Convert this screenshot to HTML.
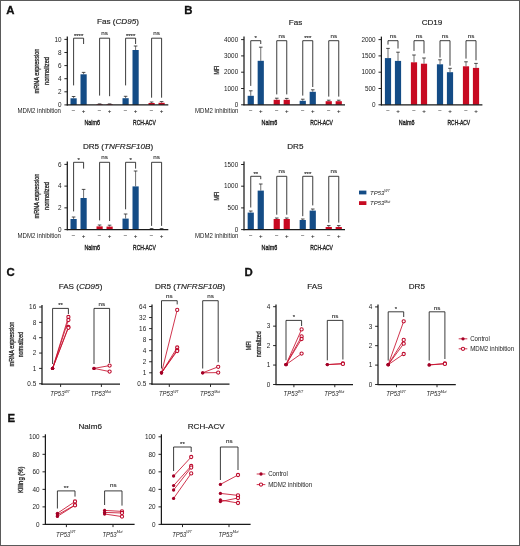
<!DOCTYPE html>
<html><head><meta charset="utf-8"><title>Figure</title>
<style>html,body{margin:0;padding:0;background:#fff;}svg{display:block;will-change:transform;}body{font-family:"Liberation Sans",sans-serif;}</style></head>
<body>
<svg width="520" height="546" viewBox="0 0 520 546" font-family="Liberation Sans, sans-serif">
<rect x="0" y="0" width="520" height="546" fill="#fff"/>
<text x="6.2" y="14.4" font-size="11.4" font-weight="bold" fill="#111" stroke="#111" stroke-width="0.3">A</text>
<text x="184.2" y="14.4" font-size="11.4" font-weight="bold" fill="#111" stroke="#111" stroke-width="0.3">B</text>
<text x="6.5" y="276.3" font-size="11.4" font-weight="bold" fill="#111" stroke="#111" stroke-width="0.3">C</text>
<text x="244.5" y="276.3" font-size="11.4" font-weight="bold" fill="#111" stroke="#111" stroke-width="0.3">D</text>
<text x="7.4" y="421.6" font-size="11.4" font-weight="bold" fill="#111" stroke="#111" stroke-width="0.3">E</text>
<text transform="translate(118,24.3)" font-size="8.1" text-anchor="middle" fill="#222" stroke="#222" stroke-width="0.16">Fas (<tspan font-style="italic">CD95</tspan>)</text>
<line x1="73.60" y1="98.30" x2="73.60" y2="96.50" stroke="#222" stroke-width="0.65" />
<line x1="71.80" y1="96.50" x2="75.40" y2="96.50" stroke="#222" stroke-width="0.8" />
<rect x="70.50" y="98.30" width="6.2" height="6.60" fill="#144c86"/>
<line x1="83.60" y1="74.30" x2="83.60" y2="72.40" stroke="#222" stroke-width="0.65" />
<line x1="81.80" y1="72.40" x2="85.40" y2="72.40" stroke="#222" stroke-width="0.8" />
<rect x="80.50" y="74.30" width="6.2" height="30.60" fill="#144c86"/>
<line x1="99.60" y1="104.30" x2="99.60" y2="103.90" stroke="#222" stroke-width="0.65" />
<line x1="97.80" y1="103.90" x2="101.40" y2="103.90" stroke="#222" stroke-width="0.8" />
<rect x="96.50" y="104.30" width="6.2" height="0.60" fill="#c70a22"/>
<line x1="109.60" y1="104.30" x2="109.60" y2="103.90" stroke="#222" stroke-width="0.65" />
<line x1="107.80" y1="103.90" x2="111.40" y2="103.90" stroke="#222" stroke-width="0.8" />
<rect x="106.50" y="104.30" width="6.2" height="0.60" fill="#c70a22"/>
<line x1="125.60" y1="98.20" x2="125.60" y2="96.30" stroke="#222" stroke-width="0.65" />
<line x1="123.80" y1="96.30" x2="127.40" y2="96.30" stroke="#222" stroke-width="0.8" />
<rect x="122.50" y="98.20" width="6.2" height="6.70" fill="#144c86"/>
<line x1="135.60" y1="50.00" x2="135.60" y2="46.00" stroke="#222" stroke-width="0.65" />
<line x1="133.80" y1="46.00" x2="137.40" y2="46.00" stroke="#222" stroke-width="0.8" />
<rect x="132.50" y="50.00" width="6.2" height="54.90" fill="#144c86"/>
<line x1="151.60" y1="103.00" x2="151.60" y2="102.00" stroke="#222" stroke-width="0.65" />
<line x1="149.80" y1="102.00" x2="153.40" y2="102.00" stroke="#222" stroke-width="0.8" />
<rect x="148.50" y="103.00" width="6.2" height="1.90" fill="#c70a22"/>
<line x1="161.60" y1="102.80" x2="161.60" y2="101.60" stroke="#222" stroke-width="0.65" />
<line x1="159.80" y1="101.60" x2="163.40" y2="101.60" stroke="#222" stroke-width="0.8" />
<rect x="158.50" y="102.80" width="6.2" height="2.10" fill="#c70a22"/>
<line x1="67.30" y1="36.40" x2="67.30" y2="105.45" stroke="#1a1a1a" stroke-width="1.25" />
<line x1="66.75" y1="104.90" x2="168.30" y2="104.90" stroke="#1a1a1a" stroke-width="1.25" />
<line x1="64.40" y1="104.90" x2="67.30" y2="104.90" stroke="#1a1a1a" stroke-width="0.95" />
<text transform="translate(61.50,107.15) scale(0.98,1)" font-size="6.5" text-anchor="end" fill="#222" font-weight="normal" font-style="normal"  >0</text>
<line x1="64.40" y1="91.80" x2="67.30" y2="91.80" stroke="#1a1a1a" stroke-width="0.95" />
<text transform="translate(61.50,94.05) scale(0.98,1)" font-size="6.5" text-anchor="end" fill="#222" font-weight="normal" font-style="normal"  >2</text>
<line x1="64.40" y1="78.70" x2="67.30" y2="78.70" stroke="#1a1a1a" stroke-width="0.95" />
<text transform="translate(61.50,80.95) scale(0.98,1)" font-size="6.5" text-anchor="end" fill="#222" font-weight="normal" font-style="normal"  >4</text>
<line x1="64.40" y1="65.60" x2="67.30" y2="65.60" stroke="#1a1a1a" stroke-width="0.95" />
<text transform="translate(61.50,67.85) scale(0.98,1)" font-size="6.5" text-anchor="end" fill="#222" font-weight="normal" font-style="normal"  >6</text>
<line x1="64.40" y1="52.50" x2="67.30" y2="52.50" stroke="#1a1a1a" stroke-width="0.95" />
<text transform="translate(61.50,54.75) scale(0.98,1)" font-size="6.5" text-anchor="end" fill="#222" font-weight="normal" font-style="normal"  >8</text>
<line x1="64.40" y1="39.40" x2="67.30" y2="39.40" stroke="#1a1a1a" stroke-width="0.95" />
<text transform="translate(61.50,41.65) scale(0.98,1)" font-size="6.5" text-anchor="end" fill="#222" font-weight="normal" font-style="normal"  >10</text>
<path d="M73.60,85.40 V38.20 H83.60 V44.00" fill="none" stroke="#1a1a1a" stroke-width="0.85"/>
<text transform="translate(78.60,37.60)" font-size="6.0" text-anchor="middle" fill="#222" font-weight="normal" font-style="normal" stroke="#222" stroke-width="0.1">****</text>
<path d="M99.60,95.60 V38.20 H109.60 V96.20" fill="none" stroke="#1a1a1a" stroke-width="0.85"/>
<text transform="translate(104.60,35.25)" font-size="6.2" text-anchor="middle" fill="#222" font-weight="normal" font-style="normal" stroke="#222" stroke-width="0.1">ns</text>
<path d="M125.60,85.40 V38.20 H135.60 V44.00" fill="none" stroke="#1a1a1a" stroke-width="0.85"/>
<text transform="translate(130.60,37.60)" font-size="6.0" text-anchor="middle" fill="#222" font-weight="normal" font-style="normal" stroke="#222" stroke-width="0.1">****</text>
<path d="M151.60,97.70 V38.20 H161.60 V97.70" fill="none" stroke="#1a1a1a" stroke-width="0.85"/>
<text transform="translate(156.60,35.25)" font-size="6.2" text-anchor="middle" fill="#222" font-weight="normal" font-style="normal" stroke="#222" stroke-width="0.1">ns</text>
<text transform="translate(73.60,113.00)" font-size="6.1" text-anchor="middle" fill="#222" font-weight="normal" font-style="normal" stroke="#222" stroke-width="0.1">−</text>
<text transform="translate(83.60,113.00)" font-size="6.1" text-anchor="middle" fill="#222" font-weight="normal" font-style="normal" stroke="#222" stroke-width="0.1">+</text>
<text transform="translate(99.60,113.00)" font-size="6.1" text-anchor="middle" fill="#222" font-weight="normal" font-style="normal" stroke="#222" stroke-width="0.1">−</text>
<text transform="translate(109.60,113.00)" font-size="6.1" text-anchor="middle" fill="#222" font-weight="normal" font-style="normal" stroke="#222" stroke-width="0.1">+</text>
<text transform="translate(125.60,113.00)" font-size="6.1" text-anchor="middle" fill="#222" font-weight="normal" font-style="normal" stroke="#222" stroke-width="0.1">−</text>
<text transform="translate(135.60,113.00)" font-size="6.1" text-anchor="middle" fill="#222" font-weight="normal" font-style="normal" stroke="#222" stroke-width="0.1">+</text>
<text transform="translate(151.60,113.00)" font-size="6.1" text-anchor="middle" fill="#222" font-weight="normal" font-style="normal" stroke="#222" stroke-width="0.1">−</text>
<text transform="translate(161.60,113.00)" font-size="6.1" text-anchor="middle" fill="#222" font-weight="normal" font-style="normal" stroke="#222" stroke-width="0.1">+</text>
<text transform="translate(61.00,112.90) scale(0.935,1)" font-size="6.5" text-anchor="end" fill="#222" font-weight="normal" font-style="normal"  >MDM2 inhibition</text>
<text transform="translate(92.20,124.80) scale(0.675,1)" font-size="8.0" text-anchor="middle" fill="#222" font-weight="normal" font-style="normal" stroke="#222" stroke-width="0.4">Nalm6</text>
<text transform="translate(144.40,124.80) scale(0.625,1)" font-size="8.0" text-anchor="middle" fill="#222" font-weight="normal" font-style="normal" stroke="#222" stroke-width="0.4">RCH-ACV</text>
<text transform="translate(38.80,71.00) rotate(-90) scale(0.78,1)" font-size="7.2" text-anchor="middle" fill="#222" font-weight="normal" font-style="normal" stroke="#222" stroke-width="0.28">mRNA expression</text>
<text transform="translate(48.90,71.00) rotate(-90) scale(0.8,1)" font-size="7.2" text-anchor="middle" fill="#222" font-weight="normal" font-style="normal" stroke="#222" stroke-width="0.28">normalized</text>
<text transform="translate(118,148.8)" font-size="8.1" text-anchor="middle" fill="#222" stroke="#222" stroke-width="0.16">DR5 (<tspan font-style="italic">TNFRSF10B</tspan>)</text>
<line x1="73.60" y1="219.00" x2="73.60" y2="217.00" stroke="#222" stroke-width="0.65" />
<line x1="71.80" y1="217.00" x2="75.40" y2="217.00" stroke="#222" stroke-width="0.8" />
<rect x="70.50" y="219.00" width="6.2" height="10.60" fill="#144c86"/>
<line x1="83.60" y1="198.00" x2="83.60" y2="189.40" stroke="#222" stroke-width="0.65" />
<line x1="81.80" y1="189.40" x2="85.40" y2="189.40" stroke="#222" stroke-width="0.8" />
<rect x="80.50" y="198.00" width="6.2" height="31.60" fill="#144c86"/>
<line x1="99.60" y1="226.40" x2="99.60" y2="225.00" stroke="#222" stroke-width="0.65" />
<line x1="97.80" y1="225.00" x2="101.40" y2="225.00" stroke="#222" stroke-width="0.8" />
<rect x="96.50" y="226.40" width="6.2" height="3.20" fill="#c70a22"/>
<line x1="109.60" y1="226.60" x2="109.60" y2="225.20" stroke="#222" stroke-width="0.65" />
<line x1="107.80" y1="225.20" x2="111.40" y2="225.20" stroke="#222" stroke-width="0.8" />
<rect x="106.50" y="226.60" width="6.2" height="3.00" fill="#c70a22"/>
<line x1="125.60" y1="218.60" x2="125.60" y2="214.00" stroke="#222" stroke-width="0.65" />
<line x1="123.80" y1="214.00" x2="127.40" y2="214.00" stroke="#222" stroke-width="0.8" />
<rect x="122.50" y="218.60" width="6.2" height="11.00" fill="#144c86"/>
<line x1="135.60" y1="186.40" x2="135.60" y2="171.00" stroke="#222" stroke-width="0.65" />
<line x1="133.80" y1="171.00" x2="137.40" y2="171.00" stroke="#222" stroke-width="0.8" />
<rect x="132.50" y="186.40" width="6.2" height="43.20" fill="#144c86"/>
<line x1="151.60" y1="229.00" x2="151.60" y2="228.60" stroke="#222" stroke-width="0.65" />
<line x1="149.80" y1="228.60" x2="153.40" y2="228.60" stroke="#222" stroke-width="0.8" />
<rect x="148.50" y="229.00" width="6.2" height="0.60" fill="#c70a22"/>
<line x1="161.60" y1="229.00" x2="161.60" y2="228.60" stroke="#222" stroke-width="0.65" />
<line x1="159.80" y1="228.60" x2="163.40" y2="228.60" stroke="#222" stroke-width="0.8" />
<rect x="158.50" y="229.00" width="6.2" height="0.60" fill="#c70a22"/>
<line x1="67.30" y1="161.38" x2="67.30" y2="230.15" stroke="#1a1a1a" stroke-width="1.25" />
<line x1="66.75" y1="229.60" x2="168.30" y2="229.60" stroke="#1a1a1a" stroke-width="1.25" />
<line x1="64.40" y1="229.60" x2="67.30" y2="229.60" stroke="#1a1a1a" stroke-width="0.95" />
<text transform="translate(61.50,231.85) scale(0.98,1)" font-size="6.5" text-anchor="end" fill="#222" font-weight="normal" font-style="normal"  >0</text>
<line x1="64.40" y1="207.86" x2="67.30" y2="207.86" stroke="#1a1a1a" stroke-width="0.95" />
<text transform="translate(61.50,210.11) scale(0.98,1)" font-size="6.5" text-anchor="end" fill="#222" font-weight="normal" font-style="normal"  >2</text>
<line x1="64.40" y1="186.12" x2="67.30" y2="186.12" stroke="#1a1a1a" stroke-width="0.95" />
<text transform="translate(61.50,188.37) scale(0.98,1)" font-size="6.5" text-anchor="end" fill="#222" font-weight="normal" font-style="normal"  >4</text>
<line x1="64.40" y1="164.38" x2="67.30" y2="164.38" stroke="#1a1a1a" stroke-width="0.95" />
<text transform="translate(61.50,166.63) scale(0.98,1)" font-size="6.5" text-anchor="end" fill="#222" font-weight="normal" font-style="normal"  >6</text>
<path d="M73.60,211.40 V162.30 H83.60 V168.60" fill="none" stroke="#1a1a1a" stroke-width="0.85"/>
<text transform="translate(78.60,161.70)" font-size="6.0" text-anchor="middle" fill="#222" font-weight="normal" font-style="normal" stroke="#222" stroke-width="0.1">*</text>
<path d="M99.60,220.40 V162.30 H109.60 V221.00" fill="none" stroke="#1a1a1a" stroke-width="0.85"/>
<text transform="translate(104.60,159.35)" font-size="6.2" text-anchor="middle" fill="#222" font-weight="normal" font-style="normal" stroke="#222" stroke-width="0.1">ns</text>
<path d="M125.60,209.30 V162.30 H135.60 V168.60" fill="none" stroke="#1a1a1a" stroke-width="0.85"/>
<text transform="translate(130.60,161.70)" font-size="6.0" text-anchor="middle" fill="#222" font-weight="normal" font-style="normal" stroke="#222" stroke-width="0.1">*</text>
<path d="M151.60,225.90 V162.30 H161.60 V225.90" fill="none" stroke="#1a1a1a" stroke-width="0.85"/>
<text transform="translate(156.60,159.35)" font-size="6.2" text-anchor="middle" fill="#222" font-weight="normal" font-style="normal" stroke="#222" stroke-width="0.1">ns</text>
<text transform="translate(73.60,238.30)" font-size="6.1" text-anchor="middle" fill="#222" font-weight="normal" font-style="normal" stroke="#222" stroke-width="0.1">−</text>
<text transform="translate(83.60,238.30)" font-size="6.1" text-anchor="middle" fill="#222" font-weight="normal" font-style="normal" stroke="#222" stroke-width="0.1">+</text>
<text transform="translate(99.60,238.30)" font-size="6.1" text-anchor="middle" fill="#222" font-weight="normal" font-style="normal" stroke="#222" stroke-width="0.1">−</text>
<text transform="translate(109.60,238.30)" font-size="6.1" text-anchor="middle" fill="#222" font-weight="normal" font-style="normal" stroke="#222" stroke-width="0.1">+</text>
<text transform="translate(125.60,238.30)" font-size="6.1" text-anchor="middle" fill="#222" font-weight="normal" font-style="normal" stroke="#222" stroke-width="0.1">−</text>
<text transform="translate(135.60,238.30)" font-size="6.1" text-anchor="middle" fill="#222" font-weight="normal" font-style="normal" stroke="#222" stroke-width="0.1">+</text>
<text transform="translate(151.60,238.30)" font-size="6.1" text-anchor="middle" fill="#222" font-weight="normal" font-style="normal" stroke="#222" stroke-width="0.1">−</text>
<text transform="translate(161.60,238.30)" font-size="6.1" text-anchor="middle" fill="#222" font-weight="normal" font-style="normal" stroke="#222" stroke-width="0.1">+</text>
<text transform="translate(61.00,238.20) scale(0.935,1)" font-size="6.5" text-anchor="end" fill="#222" font-weight="normal" font-style="normal"  >MDM2 inhibition</text>
<text transform="translate(92.20,249.60) scale(0.675,1)" font-size="8.0" text-anchor="middle" fill="#222" font-weight="normal" font-style="normal" stroke="#222" stroke-width="0.4">Nalm6</text>
<text transform="translate(144.40,249.60) scale(0.625,1)" font-size="8.0" text-anchor="middle" fill="#222" font-weight="normal" font-style="normal" stroke="#222" stroke-width="0.4">RCH-ACV</text>
<text transform="translate(38.80,196.00) rotate(-90) scale(0.78,1)" font-size="7.2" text-anchor="middle" fill="#222" font-weight="normal" font-style="normal" stroke="#222" stroke-width="0.28">mRNA expression</text>
<text transform="translate(48.90,196.00) rotate(-90) scale(0.8,1)" font-size="7.2" text-anchor="middle" fill="#222" font-weight="normal" font-style="normal" stroke="#222" stroke-width="0.28">normalized</text>
<text transform="translate(295.5,24.5)" font-size="8.1" text-anchor="middle" fill="#222" stroke="#222" stroke-width="0.16">Fas</text>
<line x1="250.75" y1="95.80" x2="250.75" y2="90.80" stroke="#222" stroke-width="0.65" />
<line x1="248.95" y1="90.80" x2="252.55" y2="90.80" stroke="#222" stroke-width="0.8" />
<rect x="247.65" y="95.80" width="6.2" height="9.00" fill="#144c86"/>
<line x1="260.75" y1="60.80" x2="260.75" y2="47.20" stroke="#222" stroke-width="0.65" />
<line x1="258.95" y1="47.20" x2="262.55" y2="47.20" stroke="#222" stroke-width="0.8" />
<rect x="257.65" y="60.80" width="6.2" height="44.00" fill="#144c86"/>
<line x1="276.75" y1="99.80" x2="276.75" y2="98.20" stroke="#222" stroke-width="0.65" />
<line x1="274.95" y1="98.20" x2="278.55" y2="98.20" stroke="#222" stroke-width="0.8" />
<rect x="273.65" y="99.80" width="6.2" height="5.00" fill="#c70a22"/>
<line x1="286.75" y1="99.80" x2="286.75" y2="98.40" stroke="#222" stroke-width="0.65" />
<line x1="284.95" y1="98.40" x2="288.55" y2="98.40" stroke="#222" stroke-width="0.8" />
<rect x="283.65" y="99.80" width="6.2" height="5.00" fill="#c70a22"/>
<line x1="302.75" y1="100.80" x2="302.75" y2="99.20" stroke="#222" stroke-width="0.65" />
<line x1="300.95" y1="99.20" x2="304.55" y2="99.20" stroke="#222" stroke-width="0.8" />
<rect x="299.65" y="100.80" width="6.2" height="4.00" fill="#144c86"/>
<line x1="312.75" y1="91.80" x2="312.75" y2="89.80" stroke="#222" stroke-width="0.65" />
<line x1="310.95" y1="89.80" x2="314.55" y2="89.80" stroke="#222" stroke-width="0.8" />
<rect x="309.65" y="91.80" width="6.2" height="13.00" fill="#144c86"/>
<line x1="328.75" y1="101.20" x2="328.75" y2="100.20" stroke="#222" stroke-width="0.65" />
<line x1="326.95" y1="100.20" x2="330.55" y2="100.20" stroke="#222" stroke-width="0.8" />
<rect x="325.65" y="101.20" width="6.2" height="3.60" fill="#c70a22"/>
<line x1="338.75" y1="101.20" x2="338.75" y2="100.20" stroke="#222" stroke-width="0.65" />
<line x1="336.95" y1="100.20" x2="340.55" y2="100.20" stroke="#222" stroke-width="0.8" />
<rect x="335.65" y="101.20" width="6.2" height="3.60" fill="#c70a22"/>
<line x1="244.00" y1="36.60" x2="244.00" y2="105.35" stroke="#1a1a1a" stroke-width="1.25" />
<line x1="243.45" y1="104.80" x2="345.00" y2="104.80" stroke="#1a1a1a" stroke-width="1.25" />
<line x1="241.10" y1="104.80" x2="244.00" y2="104.80" stroke="#1a1a1a" stroke-width="0.95" />
<text transform="translate(238.20,107.05) scale(0.98,1)" font-size="6.5" text-anchor="end" fill="#222" font-weight="normal" font-style="normal"  >0</text>
<line x1="241.10" y1="88.50" x2="244.00" y2="88.50" stroke="#1a1a1a" stroke-width="0.95" />
<text transform="translate(238.20,90.75) scale(0.98,1)" font-size="6.5" text-anchor="end" fill="#222" font-weight="normal" font-style="normal"  >1000</text>
<line x1="241.10" y1="72.20" x2="244.00" y2="72.20" stroke="#1a1a1a" stroke-width="0.95" />
<text transform="translate(238.20,74.45) scale(0.98,1)" font-size="6.5" text-anchor="end" fill="#222" font-weight="normal" font-style="normal"  >2000</text>
<line x1="241.10" y1="55.90" x2="244.00" y2="55.90" stroke="#1a1a1a" stroke-width="0.95" />
<text transform="translate(238.20,58.15) scale(0.98,1)" font-size="6.5" text-anchor="end" fill="#222" font-weight="normal" font-style="normal"  >3000</text>
<line x1="241.10" y1="39.60" x2="244.00" y2="39.60" stroke="#1a1a1a" stroke-width="0.95" />
<text transform="translate(238.20,41.85) scale(0.98,1)" font-size="6.5" text-anchor="end" fill="#222" font-weight="normal" font-style="normal"  >4000</text>
<path d="M250.75,85.90 V40.70 H260.75 V44.00" fill="none" stroke="#1a1a1a" stroke-width="0.85"/>
<text transform="translate(255.75,40.10)" font-size="6.0" text-anchor="middle" fill="#222" font-weight="normal" font-style="normal" stroke="#222" stroke-width="0.1">*</text>
<path d="M276.75,94.40 V40.70 H286.75 V94.40" fill="none" stroke="#1a1a1a" stroke-width="0.85"/>
<text transform="translate(281.75,37.75)" font-size="6.2" text-anchor="middle" fill="#222" font-weight="normal" font-style="normal" stroke="#222" stroke-width="0.1">ns</text>
<path d="M302.75,95.60 V40.70 H312.75 V87.00" fill="none" stroke="#1a1a1a" stroke-width="0.85"/>
<text transform="translate(307.75,40.10)" font-size="6.0" text-anchor="middle" fill="#222" font-weight="normal" font-style="normal" stroke="#222" stroke-width="0.1">***</text>
<path d="M328.75,96.60 V40.70 H338.75 V96.60" fill="none" stroke="#1a1a1a" stroke-width="0.85"/>
<text transform="translate(333.75,37.75)" font-size="6.2" text-anchor="middle" fill="#222" font-weight="normal" font-style="normal" stroke="#222" stroke-width="0.1">ns</text>
<text transform="translate(250.75,113.00)" font-size="6.1" text-anchor="middle" fill="#222" font-weight="normal" font-style="normal" stroke="#222" stroke-width="0.1">−</text>
<text transform="translate(260.75,113.00)" font-size="6.1" text-anchor="middle" fill="#222" font-weight="normal" font-style="normal" stroke="#222" stroke-width="0.1">+</text>
<text transform="translate(276.75,113.00)" font-size="6.1" text-anchor="middle" fill="#222" font-weight="normal" font-style="normal" stroke="#222" stroke-width="0.1">−</text>
<text transform="translate(286.75,113.00)" font-size="6.1" text-anchor="middle" fill="#222" font-weight="normal" font-style="normal" stroke="#222" stroke-width="0.1">+</text>
<text transform="translate(302.75,113.00)" font-size="6.1" text-anchor="middle" fill="#222" font-weight="normal" font-style="normal" stroke="#222" stroke-width="0.1">−</text>
<text transform="translate(312.75,113.00)" font-size="6.1" text-anchor="middle" fill="#222" font-weight="normal" font-style="normal" stroke="#222" stroke-width="0.1">+</text>
<text transform="translate(328.75,113.00)" font-size="6.1" text-anchor="middle" fill="#222" font-weight="normal" font-style="normal" stroke="#222" stroke-width="0.1">−</text>
<text transform="translate(338.75,113.00)" font-size="6.1" text-anchor="middle" fill="#222" font-weight="normal" font-style="normal" stroke="#222" stroke-width="0.1">+</text>
<text transform="translate(238.50,112.90) scale(0.935,1)" font-size="6.5" text-anchor="end" fill="#222" font-weight="normal" font-style="normal"  >MDM2 inhibition</text>
<text transform="translate(269.35,124.80) scale(0.675,1)" font-size="8.0" text-anchor="middle" fill="#222" font-weight="normal" font-style="normal" stroke="#222" stroke-width="0.4">Nalm6</text>
<text transform="translate(321.55,124.80) scale(0.625,1)" font-size="8.0" text-anchor="middle" fill="#222" font-weight="normal" font-style="normal" stroke="#222" stroke-width="0.4">RCH-ACV</text>
<text transform="translate(219.20,70.00) rotate(-90) scale(0.72,1)" font-size="7.2" text-anchor="middle" fill="#222" font-weight="normal" font-style="normal" stroke="#222" stroke-width="0.28">MFI</text>
<text transform="translate(432,24.5)" font-size="8.1" text-anchor="middle" fill="#222" stroke="#222" stroke-width="0.16">CD19</text>
<line x1="388.00" y1="58.10" x2="388.00" y2="48.40" stroke="#222" stroke-width="0.65" />
<line x1="386.20" y1="48.40" x2="389.80" y2="48.40" stroke="#222" stroke-width="0.8" />
<rect x="384.90" y="58.10" width="6.2" height="46.70" fill="#144c86"/>
<line x1="398.00" y1="60.90" x2="398.00" y2="52.20" stroke="#222" stroke-width="0.65" />
<line x1="396.20" y1="52.20" x2="399.80" y2="52.20" stroke="#222" stroke-width="0.8" />
<rect x="394.90" y="60.90" width="6.2" height="43.90" fill="#144c86"/>
<line x1="414.00" y1="62.30" x2="414.00" y2="55.00" stroke="#222" stroke-width="0.65" />
<line x1="412.20" y1="55.00" x2="415.80" y2="55.00" stroke="#222" stroke-width="0.8" />
<rect x="410.90" y="62.30" width="6.2" height="42.50" fill="#c70a22"/>
<line x1="424.00" y1="63.70" x2="424.00" y2="58.00" stroke="#222" stroke-width="0.65" />
<line x1="422.20" y1="58.00" x2="425.80" y2="58.00" stroke="#222" stroke-width="0.8" />
<rect x="420.90" y="63.70" width="6.2" height="41.10" fill="#c70a22"/>
<line x1="440.00" y1="64.30" x2="440.00" y2="59.80" stroke="#222" stroke-width="0.65" />
<line x1="438.20" y1="59.80" x2="441.80" y2="59.80" stroke="#222" stroke-width="0.8" />
<rect x="436.90" y="64.30" width="6.2" height="40.50" fill="#144c86"/>
<line x1="450.00" y1="72.20" x2="450.00" y2="68.30" stroke="#222" stroke-width="0.65" />
<line x1="448.20" y1="68.30" x2="451.80" y2="68.30" stroke="#222" stroke-width="0.8" />
<rect x="446.90" y="72.20" width="6.2" height="32.60" fill="#144c86"/>
<line x1="466.00" y1="66.30" x2="466.00" y2="61.80" stroke="#222" stroke-width="0.65" />
<line x1="464.20" y1="61.80" x2="467.80" y2="61.80" stroke="#222" stroke-width="0.8" />
<rect x="462.90" y="66.30" width="6.2" height="38.50" fill="#c70a22"/>
<line x1="476.00" y1="67.90" x2="476.00" y2="63.40" stroke="#222" stroke-width="0.65" />
<line x1="474.20" y1="63.40" x2="477.80" y2="63.40" stroke="#222" stroke-width="0.8" />
<rect x="472.90" y="67.90" width="6.2" height="36.90" fill="#c70a22"/>
<line x1="381.40" y1="36.60" x2="381.40" y2="105.35" stroke="#1a1a1a" stroke-width="1.25" />
<line x1="380.85" y1="104.80" x2="482.40" y2="104.80" stroke="#1a1a1a" stroke-width="1.25" />
<line x1="378.50" y1="104.80" x2="381.40" y2="104.80" stroke="#1a1a1a" stroke-width="0.95" />
<text transform="translate(375.60,107.05) scale(0.98,1)" font-size="6.5" text-anchor="end" fill="#222" font-weight="normal" font-style="normal"  >0</text>
<line x1="378.50" y1="88.50" x2="381.40" y2="88.50" stroke="#1a1a1a" stroke-width="0.95" />
<text transform="translate(375.60,90.75) scale(0.98,1)" font-size="6.5" text-anchor="end" fill="#222" font-weight="normal" font-style="normal"  >500</text>
<line x1="378.50" y1="72.20" x2="381.40" y2="72.20" stroke="#1a1a1a" stroke-width="0.95" />
<text transform="translate(375.60,74.45) scale(0.98,1)" font-size="6.5" text-anchor="end" fill="#222" font-weight="normal" font-style="normal"  >1000</text>
<line x1="378.50" y1="55.90" x2="381.40" y2="55.90" stroke="#1a1a1a" stroke-width="0.95" />
<text transform="translate(375.60,58.15) scale(0.98,1)" font-size="6.5" text-anchor="end" fill="#222" font-weight="normal" font-style="normal"  >1500</text>
<line x1="378.50" y1="39.60" x2="381.40" y2="39.60" stroke="#1a1a1a" stroke-width="0.95" />
<text transform="translate(375.60,41.85) scale(0.98,1)" font-size="6.5" text-anchor="end" fill="#222" font-weight="normal" font-style="normal"  >2000</text>
<path d="M388.00,44.60 V40.70 H398.00 V48.50" fill="none" stroke="#1a1a1a" stroke-width="0.85"/>
<text transform="translate(393.00,37.75)" font-size="6.2" text-anchor="middle" fill="#222" font-weight="normal" font-style="normal" stroke="#222" stroke-width="0.1">ns</text>
<path d="M414.00,50.90 V40.70 H424.00 V53.40" fill="none" stroke="#1a1a1a" stroke-width="0.85"/>
<text transform="translate(419.00,37.75)" font-size="6.2" text-anchor="middle" fill="#222" font-weight="normal" font-style="normal" stroke="#222" stroke-width="0.1">ns</text>
<path d="M440.00,57.50 V40.70 H450.00 V65.70" fill="none" stroke="#1a1a1a" stroke-width="0.85"/>
<text transform="translate(445.00,37.75)" font-size="6.2" text-anchor="middle" fill="#222" font-weight="normal" font-style="normal" stroke="#222" stroke-width="0.1">ns</text>
<path d="M466.00,58.60 V40.70 H476.00 V60.30" fill="none" stroke="#1a1a1a" stroke-width="0.85"/>
<text transform="translate(471.00,37.75)" font-size="6.2" text-anchor="middle" fill="#222" font-weight="normal" font-style="normal" stroke="#222" stroke-width="0.1">ns</text>
<text transform="translate(388.00,113.00)" font-size="6.1" text-anchor="middle" fill="#222" font-weight="normal" font-style="normal" stroke="#222" stroke-width="0.1">−</text>
<text transform="translate(398.00,113.00)" font-size="6.1" text-anchor="middle" fill="#222" font-weight="normal" font-style="normal" stroke="#222" stroke-width="0.1">+</text>
<text transform="translate(414.00,113.00)" font-size="6.1" text-anchor="middle" fill="#222" font-weight="normal" font-style="normal" stroke="#222" stroke-width="0.1">−</text>
<text transform="translate(424.00,113.00)" font-size="6.1" text-anchor="middle" fill="#222" font-weight="normal" font-style="normal" stroke="#222" stroke-width="0.1">+</text>
<text transform="translate(440.00,113.00)" font-size="6.1" text-anchor="middle" fill="#222" font-weight="normal" font-style="normal" stroke="#222" stroke-width="0.1">−</text>
<text transform="translate(450.00,113.00)" font-size="6.1" text-anchor="middle" fill="#222" font-weight="normal" font-style="normal" stroke="#222" stroke-width="0.1">+</text>
<text transform="translate(466.00,113.00)" font-size="6.1" text-anchor="middle" fill="#222" font-weight="normal" font-style="normal" stroke="#222" stroke-width="0.1">−</text>
<text transform="translate(476.00,113.00)" font-size="6.1" text-anchor="middle" fill="#222" font-weight="normal" font-style="normal" stroke="#222" stroke-width="0.1">+</text>
<text transform="translate(406.60,124.80) scale(0.675,1)" font-size="8.0" text-anchor="middle" fill="#222" font-weight="normal" font-style="normal" stroke="#222" stroke-width="0.4">Nalm6</text>
<text transform="translate(458.80,124.80) scale(0.625,1)" font-size="8.0" text-anchor="middle" fill="#222" font-weight="normal" font-style="normal" stroke="#222" stroke-width="0.4">RCH-ACV</text>
<text transform="translate(295.3,149.0)" font-size="8.1" text-anchor="middle" fill="#222" stroke="#222" stroke-width="0.16">DR5</text>
<line x1="250.75" y1="212.60" x2="250.75" y2="211.00" stroke="#222" stroke-width="0.65" />
<line x1="248.95" y1="211.00" x2="252.55" y2="211.00" stroke="#222" stroke-width="0.8" />
<rect x="247.65" y="212.60" width="6.2" height="17.00" fill="#144c86"/>
<line x1="260.75" y1="190.60" x2="260.75" y2="184.00" stroke="#222" stroke-width="0.65" />
<line x1="258.95" y1="184.00" x2="262.55" y2="184.00" stroke="#222" stroke-width="0.8" />
<rect x="257.65" y="190.60" width="6.2" height="39.00" fill="#144c86"/>
<line x1="276.75" y1="219.00" x2="276.75" y2="218.00" stroke="#222" stroke-width="0.65" />
<line x1="274.95" y1="218.00" x2="278.55" y2="218.00" stroke="#222" stroke-width="0.8" />
<rect x="273.65" y="219.00" width="6.2" height="10.60" fill="#c70a22"/>
<line x1="286.75" y1="219.00" x2="286.75" y2="218.00" stroke="#222" stroke-width="0.65" />
<line x1="284.95" y1="218.00" x2="288.55" y2="218.00" stroke="#222" stroke-width="0.8" />
<rect x="283.65" y="219.00" width="6.2" height="10.60" fill="#c70a22"/>
<line x1="302.75" y1="220.00" x2="302.75" y2="219.00" stroke="#222" stroke-width="0.65" />
<line x1="300.95" y1="219.00" x2="304.55" y2="219.00" stroke="#222" stroke-width="0.8" />
<rect x="299.65" y="220.00" width="6.2" height="9.60" fill="#144c86"/>
<line x1="312.75" y1="210.60" x2="312.75" y2="209.00" stroke="#222" stroke-width="0.65" />
<line x1="310.95" y1="209.00" x2="314.55" y2="209.00" stroke="#222" stroke-width="0.8" />
<rect x="309.65" y="210.60" width="6.2" height="19.00" fill="#144c86"/>
<line x1="328.75" y1="227.00" x2="328.75" y2="225.60" stroke="#222" stroke-width="0.65" />
<line x1="326.95" y1="225.60" x2="330.55" y2="225.60" stroke="#222" stroke-width="0.8" />
<rect x="325.65" y="227.00" width="6.2" height="2.60" fill="#c70a22"/>
<line x1="338.75" y1="227.00" x2="338.75" y2="225.60" stroke="#222" stroke-width="0.65" />
<line x1="336.95" y1="225.60" x2="340.55" y2="225.60" stroke="#222" stroke-width="0.8" />
<rect x="335.65" y="227.00" width="6.2" height="2.60" fill="#c70a22"/>
<line x1="244.00" y1="161.50" x2="244.00" y2="230.15" stroke="#1a1a1a" stroke-width="1.25" />
<line x1="243.45" y1="229.60" x2="345.00" y2="229.60" stroke="#1a1a1a" stroke-width="1.25" />
<line x1="241.10" y1="229.60" x2="244.00" y2="229.60" stroke="#1a1a1a" stroke-width="0.95" />
<text transform="translate(238.20,231.85) scale(0.98,1)" font-size="6.5" text-anchor="end" fill="#222" font-weight="normal" font-style="normal"  >0</text>
<line x1="241.10" y1="207.90" x2="244.00" y2="207.90" stroke="#1a1a1a" stroke-width="0.95" />
<text transform="translate(238.20,210.15) scale(0.98,1)" font-size="6.5" text-anchor="end" fill="#222" font-weight="normal" font-style="normal"  >500</text>
<line x1="241.10" y1="186.20" x2="244.00" y2="186.20" stroke="#1a1a1a" stroke-width="0.95" />
<text transform="translate(238.20,188.45) scale(0.98,1)" font-size="6.5" text-anchor="end" fill="#222" font-weight="normal" font-style="normal"  >1000</text>
<line x1="241.10" y1="164.50" x2="244.00" y2="164.50" stroke="#1a1a1a" stroke-width="0.95" />
<text transform="translate(238.20,166.75) scale(0.98,1)" font-size="6.5" text-anchor="end" fill="#222" font-weight="normal" font-style="normal"  >1500</text>
<path d="M250.75,207.50 V176.30 H260.75 V179.20" fill="none" stroke="#1a1a1a" stroke-width="0.85"/>
<text transform="translate(255.75,175.70)" font-size="6.0" text-anchor="middle" fill="#222" font-weight="normal" font-style="normal" stroke="#222" stroke-width="0.1">**</text>
<path d="M276.75,214.70 V176.30 H286.75 V214.70" fill="none" stroke="#1a1a1a" stroke-width="0.85"/>
<text transform="translate(281.75,173.35)" font-size="6.2" text-anchor="middle" fill="#222" font-weight="normal" font-style="normal" stroke="#222" stroke-width="0.1">ns</text>
<path d="M302.75,216.20 V176.30 H312.75 V205.40" fill="none" stroke="#1a1a1a" stroke-width="0.85"/>
<text transform="translate(307.75,175.70)" font-size="6.0" text-anchor="middle" fill="#222" font-weight="normal" font-style="normal" stroke="#222" stroke-width="0.1">***</text>
<path d="M328.75,222.60 V176.30 H338.75 V222.60" fill="none" stroke="#1a1a1a" stroke-width="0.85"/>
<text transform="translate(333.75,173.35)" font-size="6.2" text-anchor="middle" fill="#222" font-weight="normal" font-style="normal" stroke="#222" stroke-width="0.1">ns</text>
<text transform="translate(250.75,238.30)" font-size="6.1" text-anchor="middle" fill="#222" font-weight="normal" font-style="normal" stroke="#222" stroke-width="0.1">−</text>
<text transform="translate(260.75,238.30)" font-size="6.1" text-anchor="middle" fill="#222" font-weight="normal" font-style="normal" stroke="#222" stroke-width="0.1">+</text>
<text transform="translate(276.75,238.30)" font-size="6.1" text-anchor="middle" fill="#222" font-weight="normal" font-style="normal" stroke="#222" stroke-width="0.1">−</text>
<text transform="translate(286.75,238.30)" font-size="6.1" text-anchor="middle" fill="#222" font-weight="normal" font-style="normal" stroke="#222" stroke-width="0.1">+</text>
<text transform="translate(302.75,238.30)" font-size="6.1" text-anchor="middle" fill="#222" font-weight="normal" font-style="normal" stroke="#222" stroke-width="0.1">−</text>
<text transform="translate(312.75,238.30)" font-size="6.1" text-anchor="middle" fill="#222" font-weight="normal" font-style="normal" stroke="#222" stroke-width="0.1">+</text>
<text transform="translate(328.75,238.30)" font-size="6.1" text-anchor="middle" fill="#222" font-weight="normal" font-style="normal" stroke="#222" stroke-width="0.1">−</text>
<text transform="translate(338.75,238.30)" font-size="6.1" text-anchor="middle" fill="#222" font-weight="normal" font-style="normal" stroke="#222" stroke-width="0.1">+</text>
<text transform="translate(238.50,238.20) scale(0.935,1)" font-size="6.5" text-anchor="end" fill="#222" font-weight="normal" font-style="normal"  >MDM2 inhibition</text>
<text transform="translate(269.35,249.60) scale(0.675,1)" font-size="8.0" text-anchor="middle" fill="#222" font-weight="normal" font-style="normal" stroke="#222" stroke-width="0.4">Nalm6</text>
<text transform="translate(321.55,249.60) scale(0.625,1)" font-size="8.0" text-anchor="middle" fill="#222" font-weight="normal" font-style="normal" stroke="#222" stroke-width="0.4">RCH-ACV</text>
<text transform="translate(219.20,196.00) rotate(-90) scale(0.72,1)" font-size="7.2" text-anchor="middle" fill="#222" font-weight="normal" font-style="normal" stroke="#222" stroke-width="0.28">MFI</text>
<rect x="359" y="190.6" width="7.4" height="3.8" fill="#144c86"/>
<rect x="359" y="201.2" width="7.4" height="3.8" fill="#c70a22"/>
<text transform="translate(370.00,194.80) scale(1.0,1)" font-size="6.0" text-anchor="start" fill="#222" font-style="italic">TP53<tspan font-size="3.60" dy="-2.82">WT</tspan></text>
<text transform="translate(370.00,205.40) scale(1.0,1)" font-size="6.0" text-anchor="start" fill="#222" font-style="italic">TP53<tspan font-size="3.60" dy="-2.82">Mut</tspan></text>
<text transform="translate(80.5,289.3)" font-size="8.1" text-anchor="middle" fill="#222" stroke="#222" stroke-width="0.16">FAS (<tspan font-style="italic">CD95</tspan>)</text>
<line x1="42.00" y1="305.00" x2="42.00" y2="384.75" stroke="#1a1a1a" stroke-width="1.25" />
<line x1="41.45" y1="384.20" x2="120.00" y2="384.20" stroke="#1a1a1a" stroke-width="1.25" />
<line x1="39.10" y1="383.75" x2="42.00" y2="383.75" stroke="#1a1a1a" stroke-width="0.95" />
<text transform="translate(36.20,386.00) scale(0.98,1)" font-size="6.5" text-anchor="end" fill="#222" font-weight="normal" font-style="normal"  >0.5</text>
<line x1="39.10" y1="368.40" x2="42.00" y2="368.40" stroke="#1a1a1a" stroke-width="0.95" />
<text transform="translate(36.20,370.65) scale(0.98,1)" font-size="6.5" text-anchor="end" fill="#222" font-weight="normal" font-style="normal"  >1</text>
<line x1="39.10" y1="353.05" x2="42.00" y2="353.05" stroke="#1a1a1a" stroke-width="0.95" />
<text transform="translate(36.20,355.30) scale(0.98,1)" font-size="6.5" text-anchor="end" fill="#222" font-weight="normal" font-style="normal"  >2</text>
<line x1="39.10" y1="337.70" x2="42.00" y2="337.70" stroke="#1a1a1a" stroke-width="0.95" />
<text transform="translate(36.20,339.95) scale(0.98,1)" font-size="6.5" text-anchor="end" fill="#222" font-weight="normal" font-style="normal"  >4</text>
<line x1="39.10" y1="322.35" x2="42.00" y2="322.35" stroke="#1a1a1a" stroke-width="0.95" />
<text transform="translate(36.20,324.60) scale(0.98,1)" font-size="6.5" text-anchor="end" fill="#222" font-weight="normal" font-style="normal"  >8</text>
<line x1="39.10" y1="307.00" x2="42.00" y2="307.00" stroke="#1a1a1a" stroke-width="0.95" />
<text transform="translate(36.20,309.25) scale(0.98,1)" font-size="6.5" text-anchor="end" fill="#222" font-weight="normal" font-style="normal"  >16</text>
<line x1="60.60" y1="384.20" x2="60.60" y2="386.90" stroke="#1a1a1a" stroke-width="0.95" />
<text transform="translate(60.10,396.40) scale(0.85,1)" font-size="7.0" text-anchor="middle" fill="#222" font-style="italic">TP53<tspan font-size="4.20" dy="-3.29">WT</tspan></text>
<line x1="101.40" y1="384.20" x2="101.40" y2="386.90" stroke="#1a1a1a" stroke-width="0.95" />
<text transform="translate(100.90,396.40) scale(0.85,1)" font-size="7.0" text-anchor="middle" fill="#222" font-style="italic">TP53<tspan font-size="4.20" dy="-3.29">Mut</tspan></text>
<line x1="52.60" y1="368.40" x2="68.40" y2="317.00" stroke="#c8102e" stroke-width="0.85" />
<line x1="52.60" y1="368.40" x2="68.40" y2="320.00" stroke="#c8102e" stroke-width="0.85" />
<line x1="52.60" y1="368.40" x2="68.40" y2="327.00" stroke="#c8102e" stroke-width="0.85" />
<line x1="52.60" y1="368.40" x2="68.40" y2="327.80" stroke="#c8102e" stroke-width="0.85" />
<circle cx="52.60" cy="368.40" r="1.65" fill="#a30026"/>
<circle cx="52.60" cy="368.40" r="1.65" fill="#a30026"/>
<circle cx="52.60" cy="368.40" r="1.65" fill="#a30026"/>
<circle cx="52.60" cy="368.40" r="1.65" fill="#a30026"/>
<circle cx="68.40" cy="317.00" r="1.62" fill="#fff" stroke="#bd0a2c" stroke-width="1.05"/>
<circle cx="68.40" cy="320.00" r="1.62" fill="#fff" stroke="#bd0a2c" stroke-width="1.05"/>
<circle cx="68.40" cy="327.00" r="1.62" fill="#fff" stroke="#bd0a2c" stroke-width="1.05"/>
<circle cx="68.40" cy="327.80" r="1.62" fill="#fff" stroke="#bd0a2c" stroke-width="1.05"/>
<line x1="94.00" y1="368.40" x2="109.60" y2="365.60" stroke="#c8102e" stroke-width="0.85" />
<line x1="94.00" y1="368.40" x2="109.60" y2="371.60" stroke="#c8102e" stroke-width="0.85" />
<circle cx="94.00" cy="368.40" r="1.65" fill="#a30026"/>
<circle cx="94.00" cy="368.40" r="1.65" fill="#a30026"/>
<circle cx="109.60" cy="365.60" r="1.62" fill="#fff" stroke="#bd0a2c" stroke-width="1.05"/>
<circle cx="109.60" cy="371.60" r="1.62" fill="#fff" stroke="#bd0a2c" stroke-width="1.05"/>
<path d="M52.60,364.00 V308.40 H68.40 V314.00" fill="none" stroke="#1a1a1a" stroke-width="0.85"/>
<text transform="translate(60.50,307.40)" font-size="6.0" text-anchor="middle" fill="#222" font-weight="normal" font-style="normal" stroke="#222" stroke-width="0.12">**</text>
<path d="M94.00,364.00 V308.40 H109.60 V363.00" fill="none" stroke="#1a1a1a" stroke-width="0.85"/>
<text transform="translate(101.80,305.60)" font-size="6.2" text-anchor="middle" fill="#222" font-weight="normal" font-style="normal" stroke="#222" stroke-width="0.1">ns</text>
<text transform="translate(13.80,344.00) rotate(-90) scale(0.78,1)" font-size="7.2" text-anchor="middle" fill="#222" font-weight="normal" font-style="normal" stroke="#222" stroke-width="0.28">mRNA expression</text>
<text transform="translate(22.90,344.70) rotate(-90) scale(0.72,1)" font-size="7.2" text-anchor="middle" fill="#222" font-weight="normal" font-style="normal" stroke="#222" stroke-width="0.28">normalized</text>
<text transform="translate(190.0,289.3)" font-size="8.1" text-anchor="middle" fill="#222" stroke="#222" stroke-width="0.16">DR5 (<tspan font-style="italic">TNFRSF10B</tspan>)</text>
<line x1="152.00" y1="304.60" x2="152.00" y2="384.75" stroke="#1a1a1a" stroke-width="1.25" />
<line x1="151.45" y1="384.20" x2="229.50" y2="384.20" stroke="#1a1a1a" stroke-width="1.25" />
<line x1="149.10" y1="383.85" x2="152.00" y2="383.85" stroke="#1a1a1a" stroke-width="0.95" />
<text transform="translate(146.20,386.10) scale(0.98,1)" font-size="6.5" text-anchor="end" fill="#222" font-weight="normal" font-style="normal"  >0.5</text>
<line x1="149.10" y1="372.80" x2="152.00" y2="372.80" stroke="#1a1a1a" stroke-width="0.95" />
<text transform="translate(146.20,375.05) scale(0.98,1)" font-size="6.5" text-anchor="end" fill="#222" font-weight="normal" font-style="normal"  >1</text>
<line x1="149.10" y1="361.75" x2="152.00" y2="361.75" stroke="#1a1a1a" stroke-width="0.95" />
<text transform="translate(146.20,364.00) scale(0.98,1)" font-size="6.5" text-anchor="end" fill="#222" font-weight="normal" font-style="normal"  >2</text>
<line x1="149.10" y1="350.70" x2="152.00" y2="350.70" stroke="#1a1a1a" stroke-width="0.95" />
<text transform="translate(146.20,352.95) scale(0.98,1)" font-size="6.5" text-anchor="end" fill="#222" font-weight="normal" font-style="normal"  >4</text>
<line x1="149.10" y1="339.65" x2="152.00" y2="339.65" stroke="#1a1a1a" stroke-width="0.95" />
<text transform="translate(146.20,341.90) scale(0.98,1)" font-size="6.5" text-anchor="end" fill="#222" font-weight="normal" font-style="normal"  >8</text>
<line x1="149.10" y1="328.60" x2="152.00" y2="328.60" stroke="#1a1a1a" stroke-width="0.95" />
<text transform="translate(146.20,330.85) scale(0.98,1)" font-size="6.5" text-anchor="end" fill="#222" font-weight="normal" font-style="normal"  >16</text>
<line x1="149.10" y1="317.55" x2="152.00" y2="317.55" stroke="#1a1a1a" stroke-width="0.95" />
<text transform="translate(146.20,319.80) scale(0.98,1)" font-size="6.5" text-anchor="end" fill="#222" font-weight="normal" font-style="normal"  >32</text>
<line x1="149.10" y1="306.50" x2="152.00" y2="306.50" stroke="#1a1a1a" stroke-width="0.95" />
<text transform="translate(146.20,308.75) scale(0.98,1)" font-size="6.5" text-anchor="end" fill="#222" font-weight="normal" font-style="normal"  >64</text>
<line x1="169.30" y1="384.20" x2="169.30" y2="386.90" stroke="#1a1a1a" stroke-width="0.95" />
<text transform="translate(168.80,396.40) scale(0.85,1)" font-size="7.0" text-anchor="middle" fill="#222" font-style="italic">TP53<tspan font-size="4.20" dy="-3.29">WT</tspan></text>
<line x1="210.50" y1="384.20" x2="210.50" y2="386.90" stroke="#1a1a1a" stroke-width="0.95" />
<text transform="translate(210.00,396.40) scale(0.85,1)" font-size="7.0" text-anchor="middle" fill="#222" font-style="italic">TP53<tspan font-size="4.20" dy="-3.29">Mut</tspan></text>
<line x1="161.50" y1="372.80" x2="177.20" y2="309.90" stroke="#c8102e" stroke-width="0.85" />
<line x1="161.50" y1="372.80" x2="177.20" y2="347.50" stroke="#c8102e" stroke-width="0.85" />
<line x1="161.50" y1="372.80" x2="177.20" y2="349.90" stroke="#c8102e" stroke-width="0.85" />
<line x1="161.50" y1="372.80" x2="177.20" y2="351.00" stroke="#c8102e" stroke-width="0.85" />
<circle cx="161.50" cy="372.80" r="1.65" fill="#a30026"/>
<circle cx="161.50" cy="372.80" r="1.65" fill="#a30026"/>
<circle cx="161.50" cy="372.80" r="1.65" fill="#a30026"/>
<circle cx="161.50" cy="372.80" r="1.65" fill="#a30026"/>
<circle cx="177.20" cy="309.90" r="1.62" fill="#fff" stroke="#bd0a2c" stroke-width="1.05"/>
<circle cx="177.20" cy="347.50" r="1.62" fill="#fff" stroke="#bd0a2c" stroke-width="1.05"/>
<circle cx="177.20" cy="349.90" r="1.62" fill="#fff" stroke="#bd0a2c" stroke-width="1.05"/>
<circle cx="177.20" cy="351.00" r="1.62" fill="#fff" stroke="#bd0a2c" stroke-width="1.05"/>
<line x1="202.70" y1="372.80" x2="218.20" y2="366.80" stroke="#c8102e" stroke-width="0.85" />
<line x1="202.70" y1="372.80" x2="218.20" y2="372.60" stroke="#c8102e" stroke-width="0.85" />
<circle cx="202.70" cy="372.80" r="1.65" fill="#a30026"/>
<circle cx="202.70" cy="372.80" r="1.65" fill="#a30026"/>
<circle cx="218.20" cy="366.80" r="1.62" fill="#fff" stroke="#bd0a2c" stroke-width="1.05"/>
<circle cx="218.20" cy="372.60" r="1.62" fill="#fff" stroke="#bd0a2c" stroke-width="1.05"/>
<path d="M161.50,368.50 V300.70 H177.20 V304.40" fill="none" stroke="#1a1a1a" stroke-width="0.85"/>
<text transform="translate(169.35,297.90)" font-size="6.2" text-anchor="middle" fill="#222" font-weight="normal" font-style="normal" stroke="#222" stroke-width="0.1">ns</text>
<path d="M202.70,368.50 V300.70 H218.20 V362.30" fill="none" stroke="#1a1a1a" stroke-width="0.85"/>
<text transform="translate(210.45,297.90)" font-size="6.2" text-anchor="middle" fill="#222" font-weight="normal" font-style="normal" stroke="#222" stroke-width="0.1">ns</text>
<text transform="translate(314.8,289.3)" font-size="8.1" text-anchor="middle" fill="#222" stroke="#222" stroke-width="0.16">FAS</text>
<line x1="276.00" y1="304.40" x2="276.00" y2="385.05" stroke="#1a1a1a" stroke-width="1.25" />
<line x1="275.45" y1="384.50" x2="353.00" y2="384.50" stroke="#1a1a1a" stroke-width="1.25" />
<line x1="273.10" y1="384.50" x2="276.00" y2="384.50" stroke="#1a1a1a" stroke-width="0.95" />
<text transform="translate(270.20,386.75) scale(0.98,1)" font-size="6.5" text-anchor="end" fill="#222" font-weight="normal" font-style="normal"  >0</text>
<line x1="273.10" y1="365.05" x2="276.00" y2="365.05" stroke="#1a1a1a" stroke-width="0.95" />
<text transform="translate(270.20,367.30) scale(0.98,1)" font-size="6.5" text-anchor="end" fill="#222" font-weight="normal" font-style="normal"  >1</text>
<line x1="273.10" y1="345.60" x2="276.00" y2="345.60" stroke="#1a1a1a" stroke-width="0.95" />
<text transform="translate(270.20,347.85) scale(0.98,1)" font-size="6.5" text-anchor="end" fill="#222" font-weight="normal" font-style="normal"  >2</text>
<line x1="273.10" y1="326.15" x2="276.00" y2="326.15" stroke="#1a1a1a" stroke-width="0.95" />
<text transform="translate(270.20,328.40) scale(0.98,1)" font-size="6.5" text-anchor="end" fill="#222" font-weight="normal" font-style="normal"  >3</text>
<line x1="273.10" y1="306.70" x2="276.00" y2="306.70" stroke="#1a1a1a" stroke-width="0.95" />
<text transform="translate(270.20,308.95) scale(0.98,1)" font-size="6.5" text-anchor="end" fill="#222" font-weight="normal" font-style="normal"  >4</text>
<line x1="293.90" y1="384.50" x2="293.90" y2="387.20" stroke="#1a1a1a" stroke-width="0.95" />
<text transform="translate(293.40,396.40) scale(0.85,1)" font-size="7.0" text-anchor="middle" fill="#222" font-style="italic">TP53<tspan font-size="4.20" dy="-3.29">WT</tspan></text>
<line x1="334.80" y1="384.50" x2="334.80" y2="387.20" stroke="#1a1a1a" stroke-width="0.95" />
<text transform="translate(334.30,396.40) scale(0.85,1)" font-size="7.0" text-anchor="middle" fill="#222" font-style="italic">TP53<tspan font-size="4.20" dy="-3.29">Mut</tspan></text>
<line x1="286.00" y1="364.60" x2="301.60" y2="329.40" stroke="#c8102e" stroke-width="0.85" />
<line x1="286.00" y1="364.60" x2="301.60" y2="336.40" stroke="#c8102e" stroke-width="0.85" />
<line x1="286.00" y1="364.60" x2="301.60" y2="339.00" stroke="#c8102e" stroke-width="0.85" />
<line x1="286.00" y1="364.60" x2="301.60" y2="353.60" stroke="#c8102e" stroke-width="0.85" />
<circle cx="286.00" cy="364.60" r="1.65" fill="#a30026"/>
<circle cx="286.00" cy="364.60" r="1.65" fill="#a30026"/>
<circle cx="286.00" cy="364.60" r="1.65" fill="#a30026"/>
<circle cx="286.00" cy="364.60" r="1.65" fill="#a30026"/>
<circle cx="301.60" cy="329.40" r="1.62" fill="#fff" stroke="#bd0a2c" stroke-width="1.05"/>
<circle cx="301.60" cy="336.40" r="1.62" fill="#fff" stroke="#bd0a2c" stroke-width="1.05"/>
<circle cx="301.60" cy="339.00" r="1.62" fill="#fff" stroke="#bd0a2c" stroke-width="1.05"/>
<circle cx="301.60" cy="353.60" r="1.62" fill="#fff" stroke="#bd0a2c" stroke-width="1.05"/>
<line x1="327.30" y1="364.60" x2="342.90" y2="363.50" stroke="#c8102e" stroke-width="0.85" />
<line x1="327.30" y1="364.60" x2="342.90" y2="363.90" stroke="#c8102e" stroke-width="0.85" />
<circle cx="327.30" cy="364.60" r="1.65" fill="#a30026"/>
<circle cx="327.30" cy="364.60" r="1.65" fill="#a30026"/>
<circle cx="342.90" cy="363.50" r="1.62" fill="#fff" stroke="#bd0a2c" stroke-width="1.05"/>
<circle cx="342.90" cy="363.90" r="1.62" fill="#fff" stroke="#bd0a2c" stroke-width="1.05"/>
<path d="M286.00,360.30 V320.40 H301.60 V326.00" fill="none" stroke="#1a1a1a" stroke-width="0.85"/>
<text transform="translate(293.80,319.40)" font-size="6.0" text-anchor="middle" fill="#222" font-weight="normal" font-style="normal" stroke="#222" stroke-width="0.12">*</text>
<path d="M327.30,360.30 V320.40 H342.90 V359.50" fill="none" stroke="#1a1a1a" stroke-width="0.85"/>
<text transform="translate(335.10,318.30)" font-size="6.2" text-anchor="middle" fill="#222" font-weight="normal" font-style="normal" stroke="#222" stroke-width="0.1">ns</text>
<text transform="translate(251.30,345.70) rotate(-90) scale(0.72,1)" font-size="7.2" text-anchor="middle" fill="#222" font-weight="normal" font-style="normal" stroke="#222" stroke-width="0.28">MFI</text>
<text transform="translate(261.40,344.30) rotate(-90) scale(0.74,1)" font-size="7.2" text-anchor="middle" fill="#222" font-weight="normal" font-style="normal" stroke="#222" stroke-width="0.28">normalized</text>
<text transform="translate(416.8,289.3)" font-size="8.1" text-anchor="middle" fill="#222" stroke="#222" stroke-width="0.16">DR5</text>
<line x1="378.00" y1="304.60" x2="378.00" y2="385.05" stroke="#1a1a1a" stroke-width="1.25" />
<line x1="377.45" y1="384.50" x2="455.80" y2="384.50" stroke="#1a1a1a" stroke-width="1.25" />
<line x1="375.10" y1="384.50" x2="378.00" y2="384.50" stroke="#1a1a1a" stroke-width="0.95" />
<text transform="translate(372.20,386.75) scale(0.98,1)" font-size="6.5" text-anchor="end" fill="#222" font-weight="normal" font-style="normal"  >0</text>
<line x1="375.10" y1="365.10" x2="378.00" y2="365.10" stroke="#1a1a1a" stroke-width="0.95" />
<text transform="translate(372.20,367.35) scale(0.98,1)" font-size="6.5" text-anchor="end" fill="#222" font-weight="normal" font-style="normal"  >1</text>
<line x1="375.10" y1="345.70" x2="378.00" y2="345.70" stroke="#1a1a1a" stroke-width="0.95" />
<text transform="translate(372.20,347.95) scale(0.98,1)" font-size="6.5" text-anchor="end" fill="#222" font-weight="normal" font-style="normal"  >2</text>
<line x1="375.10" y1="326.30" x2="378.00" y2="326.30" stroke="#1a1a1a" stroke-width="0.95" />
<text transform="translate(372.20,328.55) scale(0.98,1)" font-size="6.5" text-anchor="end" fill="#222" font-weight="normal" font-style="normal"  >3</text>
<line x1="375.10" y1="306.90" x2="378.00" y2="306.90" stroke="#1a1a1a" stroke-width="0.95" />
<text transform="translate(372.20,309.15) scale(0.98,1)" font-size="6.5" text-anchor="end" fill="#222" font-weight="normal" font-style="normal"  >4</text>
<line x1="396.50" y1="384.50" x2="396.50" y2="387.20" stroke="#1a1a1a" stroke-width="0.95" />
<text transform="translate(396.00,396.40) scale(0.85,1)" font-size="7.0" text-anchor="middle" fill="#222" font-style="italic">TP53<tspan font-size="4.20" dy="-3.29">WT</tspan></text>
<line x1="437.00" y1="384.50" x2="437.00" y2="387.20" stroke="#1a1a1a" stroke-width="0.95" />
<text transform="translate(436.50,396.40) scale(0.85,1)" font-size="7.0" text-anchor="middle" fill="#222" font-style="italic">TP53<tspan font-size="4.20" dy="-3.29">Mut</tspan></text>
<line x1="388.20" y1="364.70" x2="403.70" y2="321.30" stroke="#c8102e" stroke-width="0.85" />
<line x1="388.20" y1="364.70" x2="403.70" y2="339.90" stroke="#c8102e" stroke-width="0.85" />
<line x1="388.20" y1="364.70" x2="403.70" y2="343.70" stroke="#c8102e" stroke-width="0.85" />
<line x1="388.20" y1="364.70" x2="403.70" y2="354.00" stroke="#c8102e" stroke-width="0.85" />
<circle cx="388.20" cy="364.70" r="1.65" fill="#a30026"/>
<circle cx="388.20" cy="364.70" r="1.65" fill="#a30026"/>
<circle cx="388.20" cy="364.70" r="1.65" fill="#a30026"/>
<circle cx="388.20" cy="364.70" r="1.65" fill="#a30026"/>
<circle cx="403.70" cy="321.30" r="1.62" fill="#fff" stroke="#bd0a2c" stroke-width="1.05"/>
<circle cx="403.70" cy="339.90" r="1.62" fill="#fff" stroke="#bd0a2c" stroke-width="1.05"/>
<circle cx="403.70" cy="343.70" r="1.62" fill="#fff" stroke="#bd0a2c" stroke-width="1.05"/>
<circle cx="403.70" cy="354.00" r="1.62" fill="#fff" stroke="#bd0a2c" stroke-width="1.05"/>
<line x1="429.20" y1="364.90" x2="444.90" y2="363.50" stroke="#c8102e" stroke-width="0.85" />
<line x1="429.20" y1="364.90" x2="444.90" y2="363.90" stroke="#c8102e" stroke-width="0.85" />
<circle cx="429.20" cy="364.90" r="1.65" fill="#a30026"/>
<circle cx="429.20" cy="364.90" r="1.65" fill="#a30026"/>
<circle cx="444.90" cy="363.50" r="1.62" fill="#fff" stroke="#bd0a2c" stroke-width="1.05"/>
<circle cx="444.90" cy="363.90" r="1.62" fill="#fff" stroke="#bd0a2c" stroke-width="1.05"/>
<path d="M388.20,360.60 V311.80 H403.70 V317.00" fill="none" stroke="#1a1a1a" stroke-width="0.85"/>
<text transform="translate(395.95,310.80)" font-size="6.0" text-anchor="middle" fill="#222" font-weight="normal" font-style="normal" stroke="#222" stroke-width="0.12">*</text>
<path d="M429.20,360.60 V311.80 H444.90 V359.00" fill="none" stroke="#1a1a1a" stroke-width="0.85"/>
<text transform="translate(437.05,309.70)" font-size="6.2" text-anchor="middle" fill="#222" font-weight="normal" font-style="normal" stroke="#222" stroke-width="0.1">ns</text>
<line x1="458.70" y1="338.80" x2="467.30" y2="338.80" stroke="#c8102e" stroke-width="0.85" />
<circle cx="463" cy="338.8" r="1.65" fill="#a30026"/>
<text transform="translate(470.20,341.00) scale(0.94,1)" font-size="6.5" text-anchor="start" fill="#222" font-weight="normal" font-style="normal"  >Control</text>
<line x1="458.70" y1="348.80" x2="467.30" y2="348.80" stroke="#c8102e" stroke-width="0.85" />
<circle cx="463" cy="348.8" r="1.62" fill="#fff" stroke="#bd0a2c" stroke-width="1.05"/>
<text transform="translate(470.20,351.00) scale(0.945,1)" font-size="6.5" text-anchor="start" fill="#222" font-weight="normal" font-style="normal"  >MDM2 inhibition</text>
<text transform="translate(90.2,428.8)" font-size="8.1" text-anchor="middle" fill="#222" stroke="#222" stroke-width="0.16">Nalm6</text>
<line x1="45.40" y1="434.30" x2="45.40" y2="524.95" stroke="#1a1a1a" stroke-width="1.25" />
<line x1="44.85" y1="524.40" x2="134.60" y2="524.40" stroke="#1a1a1a" stroke-width="1.25" />
<line x1="42.50" y1="524.40" x2="45.40" y2="524.40" stroke="#1a1a1a" stroke-width="0.95" />
<text transform="translate(39.60,526.65) scale(0.98,1)" font-size="6.5" text-anchor="end" fill="#222" font-weight="normal" font-style="normal"  >0</text>
<line x1="42.50" y1="506.88" x2="45.40" y2="506.88" stroke="#1a1a1a" stroke-width="0.95" />
<text transform="translate(39.60,509.13) scale(0.98,1)" font-size="6.5" text-anchor="end" fill="#222" font-weight="normal" font-style="normal"  >20</text>
<line x1="42.50" y1="489.36" x2="45.40" y2="489.36" stroke="#1a1a1a" stroke-width="0.95" />
<text transform="translate(39.60,491.61) scale(0.98,1)" font-size="6.5" text-anchor="end" fill="#222" font-weight="normal" font-style="normal"  >40</text>
<line x1="42.50" y1="471.84" x2="45.40" y2="471.84" stroke="#1a1a1a" stroke-width="0.95" />
<text transform="translate(39.60,474.09) scale(0.98,1)" font-size="6.5" text-anchor="end" fill="#222" font-weight="normal" font-style="normal"  >60</text>
<line x1="42.50" y1="454.32" x2="45.40" y2="454.32" stroke="#1a1a1a" stroke-width="0.95" />
<text transform="translate(39.60,456.57) scale(0.98,1)" font-size="6.5" text-anchor="end" fill="#222" font-weight="normal" font-style="normal"  >80</text>
<line x1="42.50" y1="436.80" x2="45.40" y2="436.80" stroke="#1a1a1a" stroke-width="0.95" />
<text transform="translate(39.60,439.05) scale(0.98,1)" font-size="6.5" text-anchor="end" fill="#222" font-weight="normal" font-style="normal"  >100</text>
<line x1="66.40" y1="524.40" x2="66.40" y2="527.10" stroke="#1a1a1a" stroke-width="0.95" />
<text transform="translate(65.90,536.60) scale(0.85,1)" font-size="7.0" text-anchor="middle" fill="#222" font-style="italic">TP53<tspan font-size="4.20" dy="-3.29">WT</tspan></text>
<line x1="113.00" y1="524.40" x2="113.00" y2="527.10" stroke="#1a1a1a" stroke-width="0.95" />
<text transform="translate(112.50,536.60) scale(0.85,1)" font-size="7.0" text-anchor="middle" fill="#222" font-style="italic">TP53<tspan font-size="4.20" dy="-3.29">Mut</tspan></text>
<line x1="57.40" y1="513.30" x2="75.00" y2="501.50" stroke="#c8102e" stroke-width="0.85" />
<line x1="57.40" y1="514.90" x2="75.00" y2="505.00" stroke="#c8102e" stroke-width="0.85" />
<line x1="57.40" y1="516.40" x2="75.00" y2="505.30" stroke="#c8102e" stroke-width="0.85" />
<circle cx="57.40" cy="513.30" r="1.65" fill="#a30026"/>
<circle cx="57.40" cy="514.90" r="1.65" fill="#a30026"/>
<circle cx="57.40" cy="516.40" r="1.65" fill="#a30026"/>
<circle cx="75.00" cy="501.50" r="1.62" fill="#fff" stroke="#bd0a2c" stroke-width="1.05"/>
<circle cx="75.00" cy="505.00" r="1.62" fill="#fff" stroke="#bd0a2c" stroke-width="1.05"/>
<circle cx="75.00" cy="505.30" r="1.62" fill="#fff" stroke="#bd0a2c" stroke-width="1.05"/>
<line x1="104.60" y1="510.40" x2="122.00" y2="511.40" stroke="#c8102e" stroke-width="0.85" />
<line x1="104.60" y1="512.40" x2="122.00" y2="513.00" stroke="#c8102e" stroke-width="0.85" />
<line x1="104.60" y1="514.00" x2="122.00" y2="516.60" stroke="#c8102e" stroke-width="0.85" />
<circle cx="104.60" cy="510.40" r="1.65" fill="#a30026"/>
<circle cx="104.60" cy="512.40" r="1.65" fill="#a30026"/>
<circle cx="104.60" cy="514.00" r="1.65" fill="#a30026"/>
<circle cx="122.00" cy="511.40" r="1.62" fill="#fff" stroke="#bd0a2c" stroke-width="1.05"/>
<circle cx="122.00" cy="513.00" r="1.62" fill="#fff" stroke="#bd0a2c" stroke-width="1.05"/>
<circle cx="122.00" cy="516.60" r="1.62" fill="#fff" stroke="#bd0a2c" stroke-width="1.05"/>
<path d="M57.40,508.50 V490.90 H75.00 V496.60" fill="none" stroke="#1a1a1a" stroke-width="0.85"/>
<text transform="translate(66.20,489.90)" font-size="6.0" text-anchor="middle" fill="#222" font-weight="normal" font-style="normal" stroke="#222" stroke-width="0.12">**</text>
<path d="M104.60,505.00 V490.90 H122.00 V505.60" fill="none" stroke="#1a1a1a" stroke-width="0.85"/>
<text transform="translate(113.30,486.70)" font-size="6.2" text-anchor="middle" fill="#222" font-weight="normal" font-style="normal" stroke="#222" stroke-width="0.1">ns</text>
<text transform="translate(23.20,479.80) rotate(-90) scale(0.82,1)" font-size="7.2" text-anchor="middle" fill="#222" font-weight="normal" font-style="normal" stroke="#222" stroke-width="0.28">Killing (%)</text>
<text transform="translate(206.2,428.8)" font-size="8.1" text-anchor="middle" fill="#222" stroke="#222" stroke-width="0.16">RCH-ACV</text>
<line x1="161.40" y1="434.30" x2="161.40" y2="524.95" stroke="#1a1a1a" stroke-width="1.25" />
<line x1="160.85" y1="524.40" x2="250.60" y2="524.40" stroke="#1a1a1a" stroke-width="1.25" />
<line x1="158.50" y1="524.40" x2="161.40" y2="524.40" stroke="#1a1a1a" stroke-width="0.95" />
<text transform="translate(155.60,526.65) scale(0.98,1)" font-size="6.5" text-anchor="end" fill="#222" font-weight="normal" font-style="normal"  >0</text>
<line x1="158.50" y1="506.88" x2="161.40" y2="506.88" stroke="#1a1a1a" stroke-width="0.95" />
<text transform="translate(155.60,509.13) scale(0.98,1)" font-size="6.5" text-anchor="end" fill="#222" font-weight="normal" font-style="normal"  >20</text>
<line x1="158.50" y1="489.36" x2="161.40" y2="489.36" stroke="#1a1a1a" stroke-width="0.95" />
<text transform="translate(155.60,491.61) scale(0.98,1)" font-size="6.5" text-anchor="end" fill="#222" font-weight="normal" font-style="normal"  >40</text>
<line x1="158.50" y1="471.84" x2="161.40" y2="471.84" stroke="#1a1a1a" stroke-width="0.95" />
<text transform="translate(155.60,474.09) scale(0.98,1)" font-size="6.5" text-anchor="end" fill="#222" font-weight="normal" font-style="normal"  >60</text>
<line x1="158.50" y1="454.32" x2="161.40" y2="454.32" stroke="#1a1a1a" stroke-width="0.95" />
<text transform="translate(155.60,456.57) scale(0.98,1)" font-size="6.5" text-anchor="end" fill="#222" font-weight="normal" font-style="normal"  >80</text>
<line x1="158.50" y1="436.80" x2="161.40" y2="436.80" stroke="#1a1a1a" stroke-width="0.95" />
<text transform="translate(155.60,439.05) scale(0.98,1)" font-size="6.5" text-anchor="end" fill="#222" font-weight="normal" font-style="normal"  >100</text>
<line x1="182.50" y1="524.40" x2="182.50" y2="527.10" stroke="#1a1a1a" stroke-width="0.95" />
<text transform="translate(182.00,536.60) scale(0.85,1)" font-size="7.0" text-anchor="middle" fill="#222" font-style="italic">TP53<tspan font-size="4.20" dy="-3.29">WT</tspan></text>
<line x1="229.00" y1="524.40" x2="229.00" y2="527.10" stroke="#1a1a1a" stroke-width="0.95" />
<text transform="translate(228.50,536.60) scale(0.85,1)" font-size="7.0" text-anchor="middle" fill="#222" font-style="italic">TP53<tspan font-size="4.20" dy="-3.29">Mut</tspan></text>
<line x1="173.60" y1="476.00" x2="191.20" y2="457.00" stroke="#c8102e" stroke-width="0.85" />
<line x1="173.60" y1="485.60" x2="191.20" y2="466.00" stroke="#c8102e" stroke-width="0.85" />
<line x1="173.60" y1="490.00" x2="191.20" y2="467.60" stroke="#c8102e" stroke-width="0.85" />
<line x1="173.60" y1="498.40" x2="191.20" y2="473.40" stroke="#c8102e" stroke-width="0.85" />
<circle cx="173.60" cy="476.00" r="1.65" fill="#a30026"/>
<circle cx="173.60" cy="485.60" r="1.65" fill="#a30026"/>
<circle cx="173.60" cy="490.00" r="1.65" fill="#a30026"/>
<circle cx="173.60" cy="498.40" r="1.65" fill="#a30026"/>
<circle cx="191.20" cy="457.00" r="1.62" fill="#fff" stroke="#bd0a2c" stroke-width="1.05"/>
<circle cx="191.20" cy="466.00" r="1.62" fill="#fff" stroke="#bd0a2c" stroke-width="1.05"/>
<circle cx="191.20" cy="467.60" r="1.62" fill="#fff" stroke="#bd0a2c" stroke-width="1.05"/>
<circle cx="191.20" cy="473.40" r="1.62" fill="#fff" stroke="#bd0a2c" stroke-width="1.05"/>
<line x1="220.40" y1="484.40" x2="238.00" y2="475.00" stroke="#c8102e" stroke-width="0.85" />
<line x1="220.40" y1="493.40" x2="238.00" y2="495.40" stroke="#c8102e" stroke-width="0.85" />
<line x1="220.40" y1="501.60" x2="238.00" y2="498.00" stroke="#c8102e" stroke-width="0.85" />
<line x1="220.40" y1="500.00" x2="238.00" y2="503.00" stroke="#c8102e" stroke-width="0.85" />
<circle cx="220.40" cy="484.40" r="1.65" fill="#a30026"/>
<circle cx="220.40" cy="493.40" r="1.65" fill="#a30026"/>
<circle cx="220.40" cy="501.60" r="1.65" fill="#a30026"/>
<circle cx="220.40" cy="500.00" r="1.65" fill="#a30026"/>
<circle cx="238.00" cy="475.00" r="1.62" fill="#fff" stroke="#bd0a2c" stroke-width="1.05"/>
<circle cx="238.00" cy="495.40" r="1.62" fill="#fff" stroke="#bd0a2c" stroke-width="1.05"/>
<circle cx="238.00" cy="498.00" r="1.62" fill="#fff" stroke="#bd0a2c" stroke-width="1.05"/>
<circle cx="238.00" cy="503.00" r="1.62" fill="#fff" stroke="#bd0a2c" stroke-width="1.05"/>
<path d="M173.60,471.00 V447.00 H191.20 V452.00" fill="none" stroke="#1a1a1a" stroke-width="0.85"/>
<text transform="translate(182.40,446.00)" font-size="6.0" text-anchor="middle" fill="#222" font-weight="normal" font-style="normal" stroke="#222" stroke-width="0.12">**</text>
<path d="M220.40,480.00 V447.00 H238.00 V470.00" fill="none" stroke="#1a1a1a" stroke-width="0.85"/>
<text transform="translate(229.20,443.40)" font-size="6.2" text-anchor="middle" fill="#222" font-weight="normal" font-style="normal" stroke="#222" stroke-width="0.1">ns</text>
<line x1="256.70" y1="474.00" x2="265.30" y2="474.00" stroke="#c8102e" stroke-width="0.85" />
<circle cx="261" cy="474" r="1.65" fill="#a30026"/>
<text transform="translate(268.20,476.20) scale(0.94,1)" font-size="6.5" text-anchor="start" fill="#222" font-weight="normal" font-style="normal"  >Control</text>
<line x1="256.70" y1="484.60" x2="265.30" y2="484.60" stroke="#c8102e" stroke-width="0.85" />
<circle cx="261" cy="484.6" r="1.62" fill="#fff" stroke="#bd0a2c" stroke-width="1.05"/>
<text transform="translate(268.20,486.80) scale(0.945,1)" font-size="6.5" text-anchor="start" fill="#222" font-weight="normal" font-style="normal"  >MDM2 inhibition</text>
<rect x="0.5" y="0.5" width="519" height="545" fill="none" stroke="#5a5a5a" stroke-width="1"/>
</svg>
</body></html>
